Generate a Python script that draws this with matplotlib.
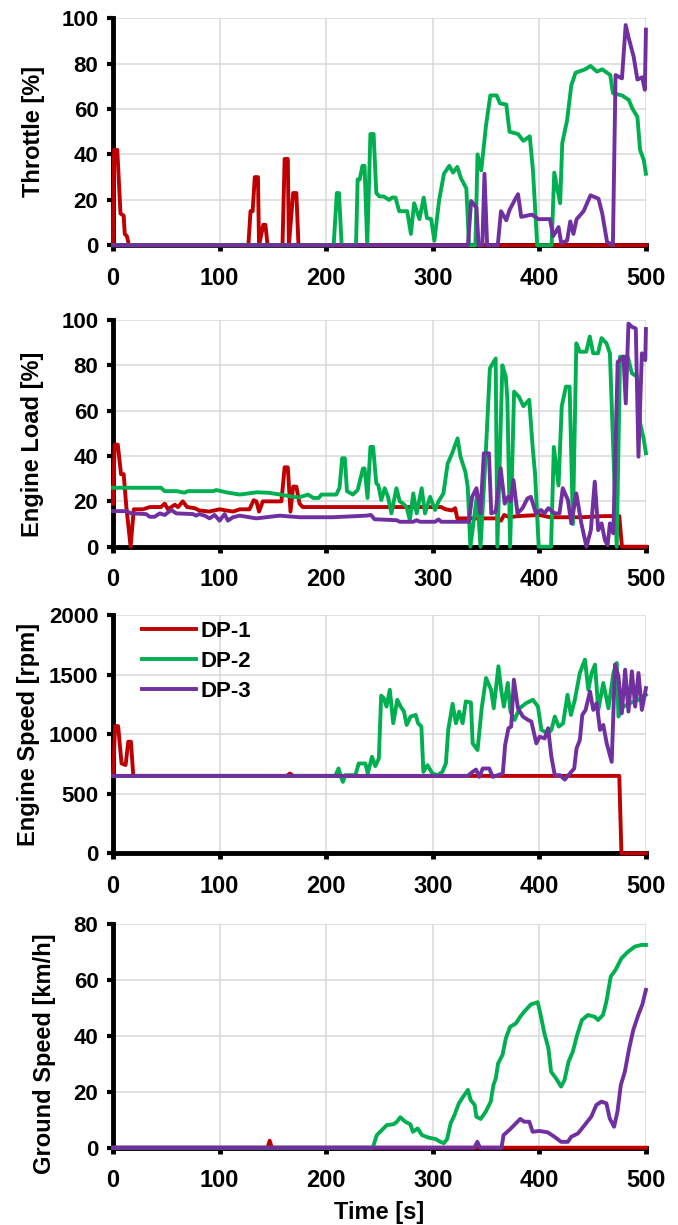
import numpy as np
import matplotlib
matplotlib.use("Agg")
import matplotlib.pyplot as plt

plt.rcParams['font.family'] = ['Liberation Sans', 'DejaVu Sans']
plt.rcParams['font.weight'] = 'bold'

labels = ["DP-1", "DP-2", "DP-3"]
colors = ["#C00000", "#00B050", "#7030A0"]

# (time [s], value)
throttle_dp1 = [(0, 0), (1, 42), (4, 42), (7, 14), (10, 13), (11, 5), (13, 4), (15, 0),
                (127, 0), (129, 15), (131, 15), (133, 30), (136, 30), (137, 0), (141, 9), (143, 9),
                (145, 0), (159, 0), (161, 38), (164, 38), (165, 0), (169, 23), (172, 23), (174, 0),
                (500, 0)]
throttle_dp2 = [(0, 0), (207, 0), (210, 23), (212, 23), (214.5, 0), (228, 0), (229.5, 29), (231.5, 29),
                (234, 35), (236, 35), (238.5, 0), (241.5, 49), (244.5, 49), (247, 23), (250, 21.5),
                (254, 21.5), (259, 20), (262, 21), (265, 21), (268.5, 15), (276, 15), (279.5, 5),
                (282.5, 18.5), (287.5, 11.5), (291.5, 21), (294.5, 12), (298.5, 11.5), (301.5, 2),
                (306, 20), (310.5, 31.5), (315.5, 35), (319, 32), (323, 34.5), (326.5, 29.5),
                (331.5, 25), (334, 0), (340, 0), (342, 40), (345.5, 33), (350, 53), (354, 66),
                (360, 66), (363, 62.5), (369, 62), (372, 50), (380, 49), (385, 46), (391, 48),
                (394, 33), (398, 0), (411.5, 0), (414, 32), (419.5, 18.5), (421.5, 45), (426, 55),
                (430, 70.5), (434, 76), (443, 77.5), (448, 79), (454, 76.5), (459, 77.5), (466.5, 75),
                (469, 67), (477.5, 66), (484, 64), (487, 60.5), (492, 56.5), (494.5, 42), (498, 37.5),
                (500, 31.5)]
throttle_dp3 = [(0, 0), (333, 0), (336, 19.5), (341, 16.5), (343, 0), (346.5, 0), (348.5, 31.5), (351, 0),
                (361, 0), (364, 15), (369, 11), (372, 15.5), (377, 20), (380, 22.5), (383, 12.5),
                (393, 13.5), (399, 11.5), (410, 11.5), (413, 4), (418, 8), (420.5, 1), (426, 2),
                (429, 10.5), (432, 5), (435, 11.5), (441.5, 15), (448, 22), (455.5, 20.5), (459, 14),
                (463.5, 1.5), (469, 0), (471.5, 75), (477.5, 73.5), (481, 97), (484, 91), (488.5, 83),
                (492, 73), (496.5, 74), (499, 68.5), (500, 95)]

load_dp1 = [(0, 19), (1.5, 45), (4.5, 45), (7.5, 32), (10, 32), (12.5, 17.5), (16.5, 0), (19.5, 16.5),
            (28, 16.5), (34.5, 17.5), (45, 17.5), (48.5, 19), (51.5, 16.5), (58, 18.5), (61, 17.5),
            (65.5, 20), (69.5, 17.5), (76.5, 17), (81, 16), (90.5, 15.5), (100, 16.5), (112.5, 15.5),
            (119, 16.5), (128, 16.5), (132, 20.5), (134.5, 20), (137, 15.5), (140.5, 20), (158, 20),
            (161, 35), (164, 35), (166.5, 15.5), (169, 26.5), (172, 26.5), (175, 19), (178, 17.5),
            (308, 17.5), (312, 16.5), (318, 16), (321, 17), (323, 12.5), (360, 12.5), (364, 11.5),
            (367, 14), (372, 13), (380, 13.5), (400, 14), (410, 13), (440, 13), (460, 13.5),
            (475, 13.5), (477.5, 0), (500, 0)]
load_dp2 = [(0, 26), (45, 26), (48.5, 24.5), (60, 24.5), (67, 23.8), (70, 24.5), (94, 24.5), (97, 25),
            (106, 24), (119, 23), (135, 24), (146, 23.8), (157, 23), (169, 22), (175, 21.8), (183, 23),
            (188, 21.5), (193, 21.5), (195.5, 23), (209.5, 23), (212.5, 26), (215, 39), (217.5, 39),
            (219.5, 24.5), (225, 23), (229.5, 25), (234.5, 34.5), (236, 34.5), (238.8, 21.5),
            (241.5, 44), (244, 44), (247, 28), (249, 27), (251.7, 20.6), (254.9, 25.8), (258, 22),
            (261.2, 14.7), (265.9, 25.8), (269, 20), (272.2, 19), (275.4, 17.5), (278.5, 11.7),
            (281.7, 23.5), (284.9, 14.7), (289.6, 25.8), (292.7, 14.7), (297.5, 22), (302.2, 16.2),
            (305.4, 20), (310, 23.5), (314, 36.7), (318, 41), (323.3, 47.8), (326, 39.7),
            (330.6, 33), (332.8, 26.5), (335.3, 0), (341.6, 23), (344.8, 0), (349.5, 39),
            (353.6, 78.7), (359, 83), (360.6, 0), (365.3, 80), (368.5, 75), (370, 65), (372.6, 0),
            (376.3, 68.4), (381, 66), (385, 62), (390.5, 64.8), (393.7, 44), (396, 32), (399.4, 0),
            (411, 0), (413.6, 44), (418, 27), (421, 62), (425, 70.6), (428.4, 70.6), (431.5, 10),
            (434.7, 89.7), (438, 86), (444, 86), (447.3, 92.7), (450.5, 85.3), (455, 85.3),
            (458.4, 92), (463, 89.7), (466.2, 85.3), (469.4, 42.6), (472.6, 0), (475.7, 83.8),
            (483, 83.8), (486.8, 76.5), (491.5, 75), (494.6, 54.4), (497.8, 47.8), (500, 41.2)]
load_dp3 = [(0, 15.7), (12.5, 15.7), (17, 14.7), (31, 14.4), (34.4, 13.2), (39, 13.2), (43.8, 14.7),
            (48.5, 14), (54.7, 16.2), (59.4, 14.7), (75, 14.4), (78, 13.7), (81, 14.4), (86, 13.7),
            (90.6, 12.5), (95.3, 14), (100, 11.5), (104.7, 14.4), (107.8, 11.5), (112.5, 13),
            (118.8, 13.7), (134.4, 12.5), (143.8, 13), (156.3, 13.7), (175, 13), (206, 13),
            (237.5, 13.7), (242, 14), (245.4, 12.1), (266, 11.7), (269, 11), (281.7, 11),
            (284.9, 11.7), (288, 11), (302, 11), (305.4, 12), (308, 11), (333.8, 11), (336.9, 22),
            (341, 25.8), (344.8, 14.7), (347.9, 41.2), (352.7, 41.2), (354.9, 14.7), (359, 15.4),
            (363.7, 34.6), (367.5, 19), (370.7, 22), (373.2, 20), (375.7, 29.4), (379.5, 14.7),
            (384.2, 17), (388.9, 21.3), (392, 22), (396.8, 14.7), (401.6, 16.2), (404.7, 14.7),
            (408.5, 17), (414.2, 14.7), (418.9, 14.7), (422, 25.8), (426.8, 20.6), (430, 10.3),
            (434.7, 23.5), (439.4, 10.3), (444.2, 0), (448.3, 7.3), (452, 28.7), (455.2, 7.3),
            (458.4, 10.3), (461.5, 2.9), (464, 0.7), (466.2, 10.3), (469.4, 5.9), (473.5, 81.5),
            (478.9, 83.8), (481.1, 63.2), (483.6, 98.4), (486.8, 97), (490.5, 96.2), (493, 39.7),
            (496.2, 85.3), (499.4, 82.3), (500, 96)]

speed_dp1 = [(0, 657), (2, 1068), (4.8, 1068), (8, 755), (11.8, 741), (14.3, 937), (16.8, 937),
             (19, 650), (163, 650), (166, 670), (169, 650), (475, 650), (477, 0), (500, 0)]
speed_dp2 = [(0, 650), (208.5, 650), (211.6, 712), (213.8, 642), (215.7, 600), (217.9, 656),
             (227.4, 656), (230.5, 754), (236.8, 754), (239, 670), (243, 810), (246, 732),
             (249.4, 796), (251.6, 1323), (254, 1303), (256.6, 1232), (259.7, 1373), (262.9, 1092),
             (266.7, 1289), (269.8, 1232), (273, 1190), (275.5, 1078), (279.2, 1148), (284, 1162),
             (286.2, 1092), (289.3, 1064), (291.2, 684), (295, 740), (299.7, 670), (304.4, 656),
             (309, 684), (312.3, 754), (314.5, 1036), (318.6, 1255), (321.7, 1092), (324.8, 1190),
             (328, 1092), (331, 1275), (335.8, 1266), (337.4, 923), (342, 867), (345.9, 1218),
             (350, 1472), (354.7, 1373), (357.2, 1218), (361.6, 1570), (364.2, 1373), (366.7, 1232),
             (370.4, 1430), (372.9, 1190), (376.7, 1120), (381.4, 1218), (387.7, 1261), (394, 1289),
             (398.7, 1232), (401.9, 1036), (408.2, 1007), (411.3, 1036), (414.5, 1148),
             (418.2, 1064), (422.3, 1092), (426.4, 1331), (429.6, 1162), (433.3, 1289), (438, 1514),
             (442.8, 1626), (445.9, 1373), (449.1, 1514), (452.2, 1584), (455.3, 1204), (460, 1430),
             (464.8, 1218), (469.5, 1514), (472.6, 1598), (474.2, 1148), (478.9, 1232),
             (485.2, 1261), (493, 1289), (500, 1331)]
speed_dp3 = [(0, 650), (332.7, 650), (337.4, 684), (340.6, 703), (343.7, 642), (346.9, 712), (353, 712),
             (356.3, 642), (365.7, 670), (367.9, 909), (371, 1050), (373.6, 1064), (376.1, 1458),
             (379.9, 1218), (384.6, 1148), (389.3, 1120), (392.5, 1106), (397.2, 923), (400.3, 979),
             (405, 965), (408.2, 1050), (411.3, 810), (414.5, 656), (419.2, 656), (423.9, 619),
             (428.6, 670), (432.7, 712), (434.9, 881), (438, 951), (440.3, 1162), (443.4, 1204),
             (447.5, 1359), (450.6, 1204), (453.8, 1261), (456.9, 1036), (460, 1078), (463.2, 923),
             (467.9, 768), (471, 1584), (474.2, 1486), (477.4, 1176), (480.5, 1542), (483.6, 1190),
             (486.8, 1528), (489.9, 1232), (493, 1514), (496.2, 1204), (500, 1387)]

ground_dp1 = [(0, 0), (145, 0), (147, 2.5), (149, 0), (500, 0)]
ground_dp2 = [(0, 0), (243.7, 0), (247.5, 4.5), (252.2, 6.3), (256.9, 8.1), (263.2, 8.4), (266.4, 9.3),
              (269.5, 10.9), (274.2, 9.3), (278.9, 8.4), (281.4, 5.7), (285.8, 6.9), (289.9, 4.5),
              (296.2, 3.6), (302.5, 3.1), (307.2, 2.1), (310.4, 1.6), (313.5, 3.1), (316.7, 8.7),
              (320.4, 11.7), (324.5, 15.9), (328.6, 18.3), (333, 20.7), (335.5, 17.1), (339.3, 15.3),
              (340.9, 11.1), (345, 10.3), (349.7, 12.9), (354.4, 16.5), (356.9, 22.4), (359.1, 24.8),
              (361.3, 30.2), (365.4, 33.2), (368.6, 39.2), (372.6, 43.3), (378, 44.5), (382.1, 46.9),
              (385.8, 48.7), (392.1, 51.3), (398.4, 52.1), (400.9, 48.1), (404.7, 41), (408.5, 35.6),
              (411, 27.2), (415.7, 24.8), (420.4, 21.9), (423.6, 24.2), (427.4, 30.8), (431.4, 34.4),
              (435.5, 40.4), (439.9, 45.7), (445.6, 47.5), (451.9, 46.9), (455, 45.7), (459.7, 47.5),
              (462.9, 52.3), (467, 61.3), (471.4, 63.6), (477, 67.8), (483.3, 70.2), (489.6, 72),
              (495.9, 72.6), (500, 72.6)]
ground_dp3 = [(0, 0), (339, 0), (341.8, 2.1), (344.3, 0), (364.5, 0), (366.4, 4.5), (371.7, 6.3),
              (376.4, 8.1), (382.1, 10.3), (385.8, 9.3), (390.6, 9.3), (393.7, 5.7), (400, 6),
              (407.9, 5.5), (414.2, 3.9), (420.4, 2.1), (426.7, 2.1), (429.9, 3.9), (436.2, 5.1),
              (442.5, 8.1), (448.7, 11.1), (453.5, 15.3), (458.2, 16.5), (462.9, 15.9), (466, 10.5),
              (470.1, 7.5), (473.3, 12.9), (476.4, 22.4), (480.2, 27.2), (484.3, 35.6), (488.1, 42.1),
              (492.8, 47.5), (496.5, 51.1), (500, 56.5)]

panels = [
    ("Throttle [%]", [throttle_dp1, throttle_dp2, throttle_dp3], 100, 20),
    ("Engine Load [%]", [load_dp1, load_dp2, load_dp3], 100, 20),
    ("Engine Speed [rpm]", [speed_dp1, speed_dp2, speed_dp3], 2000, 500),
    ("Ground Speed [km/h]", [ground_dp1, ground_dp2, ground_dp3], 80, 20),
]

# axes boxes in figure fractions (left, bottom, width, height)
boxes = [
    (0.1667, 0.7998, 0.786, 0.1853),
    (0.1667, 0.5537, 0.786, 0.1851),
    (0.1667, 0.3034, 0.786, 0.1945),
    (0.1667, 0.0631, 0.786, 0.1824),
]
label_pos = [(-0.127, 0.5), (-0.129, 0.45), (-0.137, 0.5), (-0.107, 0.42)]

fig = plt.figure(figsize=(6.78, 12.25), dpi=100)

for i, (ylab, series, ymax, ystep) in enumerate(panels):
    ax = fig.add_axes(boxes[i])
    for data, c, lab in zip(series, colors, labels):
        arr = np.array(data, dtype=float)
        ax.plot(arr[:, 0], arr[:, 1], color=c, lw=2.8, label=lab, zorder=3,
                clip_on=False, solid_joinstyle='round')
    ax.set_xlim(0, 500)
    ax.set_ylim(0, ymax)
    ax.set_xticks(np.arange(0, 501, 100))
    ax.set_yticks(np.arange(0, ymax + 1, ystep))
    ax.grid(True, color='#d9d9d9', lw=1.1)
    ax.set_axisbelow(True)
    for s in ['top', 'right']:
        ax.spines[s].set_visible(False)
    for s in ['left', 'bottom']:
        ax.spines[s].set_linewidth(3.5)
        ax.spines[s].set_color('black')
    ax.tick_params(axis='x', length=4.5, width=3.5, pad=11, labelsize=17)
    ax.tick_params(axis='y', length=4.5, width=3, pad=6, labelsize=16)
    ax.set_ylabel(ylab, fontsize=17, fontweight='bold')
    ax.yaxis.set_label_coords(*label_pos[i])
    if i == 2:
        ax.legend(loc='upper left', bbox_to_anchor=(0.054, 0.975), frameon=False,
                  fontsize=16, handlelength=2.45, handletextpad=0.2, labelspacing=0.4,
                  borderpad=0, borderaxespad=0)
    if i == 3:
        ax.set_xlabel("Time [s]", fontsize=17, fontweight='bold', labelpad=6)

fig.savefig("out.png", dpi=100)
